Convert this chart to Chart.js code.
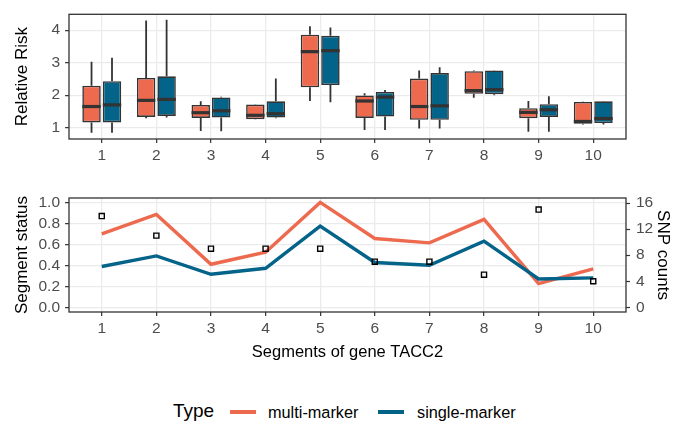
<!DOCTYPE html>
<html>
<head>
<meta charset="utf-8">
<script src="https://cdn.jsdelivr.net/npm/chart.js@4/dist/chart.umd.min.js"></script>
<style>
  body { margin: 0; background: #fff; font-family: "Liberation Sans", Arial, sans-serif; }
  #wrap { position: relative; width: 673px; height: 426px; }
  #topBox { position: absolute; left: 0; top: 0; width: 673px; height: 170px; }
  #bottomBox { position: absolute; left: 0; top: 170px; width: 673px; height: 200px; }
  .lg { position: absolute; top: 400px; line-height: 22px; height: 22px; color: #000; white-space: nowrap; }
  .sw { position: absolute; top: 410px; width: 26px; height: 4px; }
</style>
</head>
<body>
<div id="wrap">
  <div id="topBox"><canvas id="riskChart"></canvas></div>
  <div id="bottomBox"><canvas id="statusChart"></canvas></div>
  <div class="lg" style="left:173px;font-size:19px;">Type</div>
  <div class="sw" style="left:230px;background:#ED6A4F;"></div>
  <div class="lg" style="left:268px;font-size:16.3px;top:401px;">multi-marker</div>
  <div class="sw" style="left:378px;background:#036389;"></div>
  <div class="lg" style="left:417px;font-size:16.3px;top:401px;">single-marker</div>
</div>
<script>
const segments = [1, 2, 3, 4, 5, 6, 7, 8, 9, 10];

// relative risk boxplots (multi-marker)
const multiLow = [0.84, 1.29, 0.90, 1.25, 1.82, 0.93, 0.97, 1.92, 0.87, 1.10];
const multiQ1 = [1.16, 1.33, 1.30, 1.26, 2.24, 1.30, 1.24, 2.04, 1.29, 1.12];
const multiMed = [1.65, 1.84, 1.46, 1.38, 3.34, 1.82, 1.65, 2.14, 1.47, 1.19];
const multiQ3 = [2.29, 2.53, 1.70, 1.71, 3.86, 1.99, 2.51, 2.74, 1.60, 1.79];
const multiHigh = [3.03, 4.30, 1.81, 1.72, 4.12, 2.06, 2.76, 2.76, 1.82, 1.80];

// relative risk boxplots (single-marker)
const singleLow = [0.84, 1.31, 0.89, 1.29, 1.78, 0.93, 0.97, 2.00, 0.87, 1.10];
const singleQ1 = [1.16, 1.36, 1.31, 1.31, 2.31, 1.34, 1.24, 2.03, 1.33, 1.14];
const singleMed = [1.70, 1.87, 1.52, 1.43, 3.37, 1.94, 1.67, 2.17, 1.55, 1.28];
const singleQ3 = [2.43, 2.58, 1.93, 1.81, 3.83, 2.10, 2.68, 2.76, 1.72, 1.81];
const singleHigh = [3.15, 4.32, 1.95, 2.51, 4.08, 2.16, 2.86, 2.77, 1.97, 1.82];

// segment status lines + SNP counts
const multiStatus = [0.70, 0.885, 0.41, 0.525, 1.0, 0.656, 0.614, 0.838, 0.226, 0.366];
const singleStatus = [0.389, 0.49, 0.315, 0.372, 0.774, 0.427, 0.401, 0.63, 0.27, 0.28];
const snpCounts = [14, 11, 9, 9, 9, 7, 7, 5, 15, 4];

const riskTicks = [1, 2, 3, 4];
const statusTicks = [0, 0.2, 0.4, 0.6, 0.8, 1.0];
const snpTicks = [0, 4, 8, 12, 16];

const orange = "#ED6A4F";
const blue = "#036389";
const dark = "#333333";
const snpScale = 16.1;

Chart.defaults.font.family = '"Liberation Sans", Arial, sans-serif';
Chart.defaults.animation = false;

const setTicks = (vals) => (scale) => {
  scale.ticks = vals.map((v) => ({ value: v }));
};

const gridOpts = {
  color: "#EBEBEB",
  lineWidth: 1.3,
  tickColor: dark,
  tickLength: 4,
  tickWidth: 1.2,
  offset: false,
};

const tickFont = { size: 15.5 };
const titleFont = { size: 16.5 };
const sideTitleFont = { size: 17 };

const panelBorder = {
  id: "panelBorder",
  afterDraw(chart) {
    const a = chart.chartArea;
    const ctx = chart.ctx;
    ctx.save();
    ctx.strokeStyle = dark;
    ctx.lineWidth = 1.3;
    ctx.strokeRect(a.left, a.top, a.right - a.left, a.bottom - a.top);
    ctx.restore();
  },
};

const boxParts = {
  id: "boxParts",
  beforeDatasetsDraw(chart) {
    const ctx = chart.ctx;
    const y = chart.scales.y;
    ctx.save();
    ctx.strokeStyle = dark;
    ctx.lineWidth = 1.8;
    chart.data.datasets.forEach((ds, di) => {
      chart.getDatasetMeta(di).data.forEach((bar, i) => {
        ctx.beginPath();
        ctx.moveTo(bar.x, y.getPixelForValue(ds.high[i]));
        ctx.lineTo(bar.x, y.getPixelForValue(ds.q3[i]));
        ctx.moveTo(bar.x, y.getPixelForValue(ds.q1[i]));
        ctx.lineTo(bar.x, y.getPixelForValue(ds.low[i]));
        ctx.stroke();
      });
    });
    ctx.restore();
  },
  afterDatasetsDraw(chart) {
    const ctx = chart.ctx;
    const y = chart.scales.y;
    ctx.save();
    ctx.strokeStyle = dark;
    ctx.lineWidth = 3.2;
    chart.data.datasets.forEach((ds, di) => {
      chart.getDatasetMeta(di).data.forEach((bar, i) => {
        const py = y.getPixelForValue(ds.med[i]);
        ctx.beginPath();
        ctx.moveTo(bar.x - bar.width / 2, py);
        ctx.lineTo(bar.x + bar.width / 2, py);
        ctx.stroke();
      });
    });
    ctx.restore();
  },
};

const makeBox = (label, color, low, q1, med, q3, high) => ({
  label: label,
  data: segments.map((s, i) => ({ x: s, y: [q1[i], q3[i]] })),
  low: low,
  q1: q1,
  med: med,
  q3: q3,
  high: high,
  backgroundColor: color,
  borderColor: dark,
  borderWidth: 1.6,
  borderSkipped: false,
  categoryPercentage: 0.75,
  barPercentage: 0.9,
});

new Chart(document.getElementById("riskChart"), {
  type: "bar",
  data: {
    datasets: [
      makeBox("multi-marker", orange, multiLow, multiQ1, multiMed, multiQ3, multiHigh),
      makeBox("single-marker", blue, singleLow, singleQ1, singleMed, singleQ3, singleHigh),
    ],
  },
  options: {
    responsive: true,
    maintainAspectRatio: false,
    layout: { padding: { top: 9, right: 47, left: 0, bottom: 0 } },
    plugins: { legend: { display: false }, tooltip: { enabled: false } },
    scales: {
      x: {
        type: "linear",
        min: 0.4,
        max: 10.6,
        offset: false,
        afterBuildTicks: setTicks(segments),
        afterFit: (s) => { s.height = 31; },
        grid: gridOpts,
        border: { display: false },
        ticks: { font: tickFont, color: "#4D4D4D", padding: 3, maxRotation: 0 },
      },
      y: {
        min: 0.65,
        max: 4.49,
        afterBuildTicks: setTicks(riskTicks),
        afterFit: (s) => { s.width = 69; },
        grid: gridOpts,
        border: { display: false },
        ticks: { font: tickFont, color: "#4D4D4D", padding: 5 },
        title: { display: true, text: "Relative Risk", font: sideTitleFont, color: "#000", padding: { top: 12 } },
      },
    },
  },
  plugins: [boxParts, panelBorder],
});

new Chart(document.getElementById("statusChart"), {
  type: "line",
  data: {
    datasets: [
      {
        label: "SNP counts",
        data: segments.map((s, i) => ({ x: s, y: snpCounts[i] })),
        yAxisID: "y1",
        showLine: false,
        pointStyle: "rect",
        pointRadius: 3.6,
        pointBorderWidth: 1.4,
        pointBorderColor: "#000",
        pointBackgroundColor: "rgba(0,0,0,0)",
        order: 0,
      },
      {
        label: "single-marker",
        data: segments.map((s, i) => ({ x: s, y: singleStatus[i] })),
        borderColor: blue,
        borderWidth: 3.4,
        pointRadius: 0,
        order: 1,
      },
      {
        label: "multi-marker",
        data: segments.map((s, i) => ({ x: s, y: multiStatus[i] })),
        borderColor: orange,
        borderWidth: 3.4,
        pointRadius: 0,
        order: 2,
      },
    ],
  },
  options: {
    responsive: true,
    maintainAspectRatio: false,
    layout: { padding: { top: 28, right: 0, left: 0, bottom: 8 } },
    plugins: { legend: { display: false }, tooltip: { enabled: false } },
    scales: {
      x: {
        type: "linear",
        min: 0.4,
        max: 10.6,
        afterBuildTicks: setTicks(segments),
        afterFit: (s) => { s.height = 50; },
        grid: gridOpts,
        border: { display: false },
        ticks: { font: tickFont, color: "#4D4D4D", padding: 3, maxRotation: 0 },
        title: { display: true, text: "Segments of gene TACC2", font: titleFont, color: "#000", padding: 0 },
      },
      y: {
        min: -0.045,
        max: 1.042,
        afterBuildTicks: setTicks(statusTicks),
        afterFit: (s) => { s.width = 69; },
        grid: gridOpts,
        border: { display: false },
        ticks: { font: tickFont, color: "#4D4D4D", padding: 5, callback: (v) => v.toFixed(1) },
        title: { display: true, text: "Segment status", font: sideTitleFont, color: "#000", padding: { top: 12 } },
      },
      y1: {
        position: "right",
        min: -0.045 * snpScale,
        max: 1.042 * snpScale,
        afterBuildTicks: setTicks(snpTicks),
        afterFit: (s) => { s.width = 47; },
        grid: { drawOnChartArea: false, tickColor: dark, tickLength: 4, tickWidth: 1.2 },
        border: { display: false },
        ticks: { font: tickFont, color: "#4D4D4D", padding: 6 },
        title: { display: true, text: "SNP counts", font: sideTitleFont, color: "#000", padding: { top: 0 } },
      },
    },
  },
  plugins: [panelBorder],
});
</script>
</body>
</html>
